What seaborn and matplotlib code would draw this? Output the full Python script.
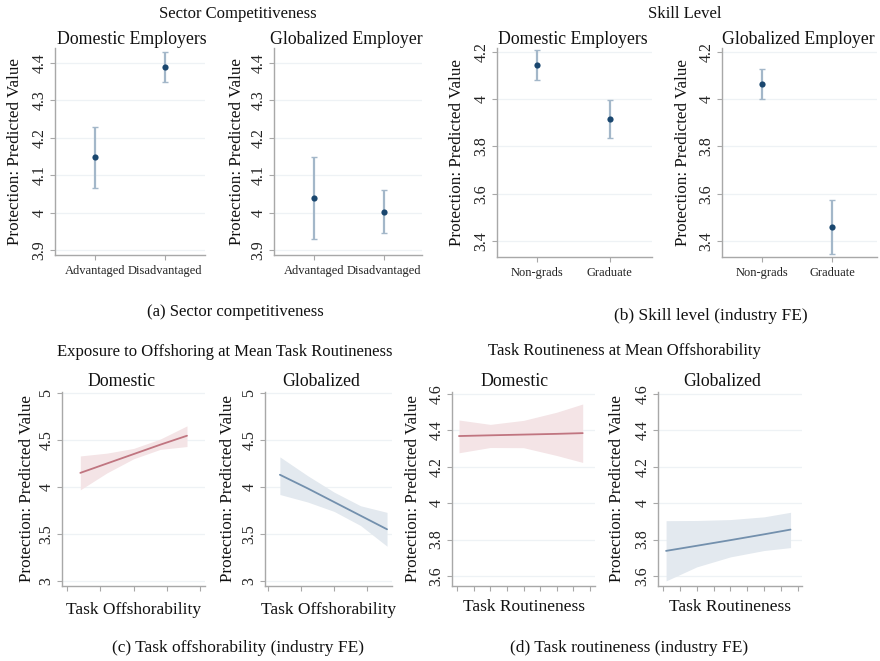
import numpy as np
import pandas as pd
import matplotlib
matplotlib.use("Agg")
import matplotlib.pyplot as plt
import seaborn as sns

sns.set_theme(style="white")
plt.rcParams['font.family'] = ['Liberation Serif', 'DejaVu Serif']
plt.rcParams['xtick.bottom'] = True
plt.rcParams['ytick.left'] = True

# ---------------- data ----------------
ylabel_text = "Protection: Predicted Value"

# (a) Sector competitiveness
sector_cats = ["Advantaged", "Disadvantaged"]
sector_dom_est = [4.148, 4.388]
sector_dom_lo = [4.065, 4.348]
sector_dom_hi = [4.230, 4.428]
sector_glob_est = [4.040, 4.003]
sector_glob_lo = [3.930, 3.945]
sector_glob_hi = [4.150, 4.060]
sector_yticks = [3.9, 4.0, 4.1, 4.2, 4.3, 4.4]
sector_yticklabels = ["3.9", "4", "4.1", "4.2", "4.3", "4.4"]

# (b) Skill level
skill_cats = ["Non-grads", "Graduate"]
skill_dom_est = [4.145, 3.915]
skill_dom_lo = [4.080, 3.835]
skill_dom_hi = [4.210, 3.997]
skill_glob_est = [4.066, 3.458]
skill_glob_lo = [4.003, 3.345]
skill_glob_hi = [4.128, 3.572]
skill_yticks = [3.4, 3.6, 3.8, 4.0, 4.2]
skill_yticklabels = ["3.4", "3.6", "3.8", "4", "4.2"]

# (c) Task offshorability
off_x_dom = [0.40, 1.20, 2.00, 2.80, 3.60]
off_dom_fit = [4.150, 4.250, 4.350, 4.450, 4.545]
off_dom_lo = [3.970, 4.150, 4.300, 4.400, 4.430]
off_dom_hi = [4.330, 4.360, 4.410, 4.510, 4.650]
off_x_glob = [0.36, 1.20, 2.00, 2.80, 3.60]
off_glob_fit = [4.130, 3.985, 3.840, 3.695, 3.550]
off_glob_lo = [3.920, 3.840, 3.740, 3.590, 3.370]
off_glob_hi = [4.320, 4.120, 3.945, 3.800, 3.730]
off_yticks = [3.0, 3.5, 4.0, 4.5, 5.0]
off_yticklabels = ["3", "3.5", "4", "4.5", "5"]

# (d) Task routineness
rout_x_dom = [0.12, 2.00, 4.00, 6.00, 7.56]
rout_dom_fit = [4.369, 4.373, 4.377, 4.381, 4.385]
rout_dom_lo = [4.277, 4.306, 4.305, 4.262, 4.224]
rout_dom_hi = [4.457, 4.433, 4.455, 4.500, 4.545]
rout_x_glob = [0.18, 2.00, 4.00, 6.00, 7.57]
rout_glob_fit = [3.738, 3.766, 3.797, 3.829, 3.855]
rout_glob_lo = [3.573, 3.650, 3.705, 3.740, 3.756]
rout_glob_hi = [3.904, 3.905, 3.910, 3.925, 3.950]
rout_yticks = [3.6, 3.8, 4.0, 4.2, 4.4, 4.6]
rout_yticklabels = ["3.6", "3.8", "4", "4.2", "4.4", "4.6"]

# ---------------- styling ----------------
W, H = 880, 661
fig = plt.figure(figsize=(W / 100, H / 100), dpi=100)

NAVY = "#1a476f"
EBAR = "#a3b7c9"
SPINE = "#a8a8a8"
GRID = "#eef2f5"
RED_LINE = "#c07580"
RED_BAND = "#f4e4e6"
BLUE_LINE = "#7390ad"
BLUE_BAND = "#e3e9ef"

def add_ax(l, t, r, b):
    return fig.add_axes([l / W, 1 - b / H, (r - l) / W, (b - t) / H])

def style_ax(ax, l, r, t, b, yticks, yticklabels, ylim, ylabel_px, tick_fs=11.5):
    ax.set_ylim(*ylim)
    ax.set_yticks(yticks)
    ax.set_yticklabels(yticklabels, fontsize=tick_fs)
    for lab in ax.get_yticklabels():
        lab.set_rotation(90)
        lab.set_va("center")
        lab.set_ha("right")
    for y in yticks:
        ax.axhline(y, color=GRID, lw=0.9, zorder=0)
    for s in ["top", "right"]:
        ax.spines[s].set_visible(False)
    for s in ["left", "bottom"]:
        ax.spines[s].set_color(SPINE)
        ax.spines[s].set_linewidth(1.0)
    ax.tick_params(axis="both", which="both", direction="out", length=3.5,
                   width=0.8, color=SPINE, labelcolor="#222222", bottom=True, left=True)
    ax.tick_params(axis="y", pad=2.0)
    ax.tick_params(axis="x", pad=4)
    ax.set_ylabel(ylabel_text, fontsize=12.3, color="#111111")
    ax.yaxis.label.set_va("center")
    ax.yaxis.set_label_coords((ylabel_px - l) / (r - l), 0.5)
    ax.grid(False)
    ax.set_facecolor("white")

def point_panel(ax, cats, est, lo, hi, xlim):
    df = pd.DataFrame({"cat": cats, "est": est, "lo": lo, "hi": hi})
    pos = np.arange(len(cats))
    ax.errorbar(pos, df["est"], yerr=[df["est"] - df["lo"], df["hi"] - df["est"]],
                fmt="none", ecolor=EBAR, elinewidth=1.6, capsize=2.2, capthick=1.0,
                zorder=2)
    sns.scatterplot(x=pos, y=df["est"], ax=ax, color=NAVY, s=20, edgecolor=NAVY,
                    linewidth=0, zorder=3)
    ax.set_xticks(pos)
    ax.set_xticklabels(cats, fontsize=9)
    ax.set_xlim(*xlim)
    ax.set_xlabel("")

def line_panel(ax, x, fit, lo, hi, lc, bc, xlim, nticks, xlabel, l, r, t, b, xlabel_py):
    ax.fill_between(x, lo, hi, color=bc, lw=0, zorder=1)
    sns.lineplot(x=x, y=fit, ax=ax, color=lc, lw=1.3, zorder=3)
    ax.set_xlim(*xlim)
    ax.set_xticks(range(nticks))
    ax.set_xticklabels([""] * nticks)
    ax.set_xlabel(xlabel, fontsize=12.5, color="#111111")
    ax.xaxis.label.set_va("center")
    ax.xaxis.set_label_coords(0.5, -(xlabel_py - b) / (b - t))

# ---------------- (a) ----------------
ax = add_ax(55, 48, 205, 255)
point_panel(ax, sector_cats, sector_dom_est, sector_dom_lo, sector_dom_hi, (-0.57, 1.57))
style_ax(ax, 55, 205, 48, 255, sector_yticks, sector_yticklabels, (3.887, 4.44), 15)

ax = add_ax(274, 48, 422, 255)
point_panel(ax, sector_cats, sector_glob_est, sector_glob_lo, sector_glob_hi, (-0.57, 1.54))
style_ax(ax, 274, 422, 48, 255, sector_yticks, sector_yticklabels, (3.887, 4.44), 237)

# ---------------- (b) ----------------
ax = add_ax(497, 48, 652, 257)
point_panel(ax, skill_cats, skill_dom_est, skill_dom_lo, skill_dom_hi, (-0.55, 1.58))
style_ax(ax, 497, 652, 48, 257, skill_yticks, skill_yticklabels, (3.332, 4.217), 457)

ax = add_ax(722, 48, 877, 257)
point_panel(ax, skill_cats, skill_glob_est, skill_glob_lo, skill_glob_hi, (-0.56, 1.63))
style_ax(ax, 722, 877, 48, 257, skill_yticks, skill_yticklabels, (3.332, 4.217), 683)

# ---------------- (c) ----------------
ax = add_ax(62, 392, 205, 586)
line_panel(ax, off_x_dom, off_dom_fit, off_dom_lo, off_dom_hi, RED_LINE, RED_BAND,
           (-0.15, 4.14), 5, "Task Offshorability", 62, 205, 392, 586, 610)
style_ax(ax, 62, 205, 392, 586, off_yticks, off_yticklabels, (2.947, 5.01), 27)

ax = add_ax(265, 392, 392, 586)
line_panel(ax, off_x_glob, off_glob_fit, off_glob_lo, off_glob_hi, BLUE_LINE, BLUE_BAND,
           (-0.09, 3.75), 4, "Task Offshorability", 265, 392, 392, 586, 610)
style_ax(ax, 265, 392, 392, 586, off_yticks, off_yticklabels, (2.947, 5.01), 228)

# ---------------- (d) ----------------
ax = add_ax(452, 392, 595, 586)
line_panel(ax, rout_x_dom, rout_dom_fit, rout_dom_lo, rout_dom_hi, RED_LINE, RED_BAND,
           (-0.3, 8.3), 9, "Task Routineness", 452, 595, 392, 586, 607)
style_ax(ax, 452, 595, 392, 586, rout_yticks, rout_yticklabels, (3.545, 4.611), 413)

ax = add_ax(658, 392, 802, 586)
line_panel(ax, rout_x_glob, rout_glob_fit, rout_glob_lo, rout_glob_hi, BLUE_LINE, BLUE_BAND,
           (-0.3, 8.25), 9, "Task Routineness", 658, 802, 392, 586, 607)
style_ax(ax, 658, 802, 392, 586, rout_yticks, rout_yticklabels, (3.545, 4.611), 617)

# ---------------- titles & captions ----------------
def ftext(x, y, s, fs, **kw):
    fig.text(x / W, 1 - y / H, s, fontsize=fs, ha="center", va="center", color="#111111", **kw)

ftext(238, 14, "Sector Competitiveness", 12)
ftext(685, 14, "Skill Level", 12)
ftext(132, 40, "Domestic Employers", 12.8)
ftext(346, 40, "Globalized Employer", 12.8)
ftext(573, 40, "Domestic Employers", 12.8)
ftext(798, 40, "Globalized Employer", 12.8)
ftext(235, 312, "(a) Sector competitiveness", 12)
ftext(711, 316, "(b) Skill level (industry FE)", 12.5)

ftext(225, 352, "Exposure to Offshoring at Mean Task Routineness", 12)
ftext(624, 351, "Task Routineness at Mean Offshorability", 12)
ftext(121, 381, "Domestic", 12.8)
ftext(321, 381, "Globalized", 12.8)
ftext(514, 381, "Domestic", 12.8)
ftext(722, 381, "Globalized", 12.8)
ftext(238, 648, "(c) Task offshorability (industry FE)", 12.5)
ftext(629, 648, "(d) Task routineness (industry FE)", 12.5)

fig.savefig("out.png", dpi=100, facecolor="white")
